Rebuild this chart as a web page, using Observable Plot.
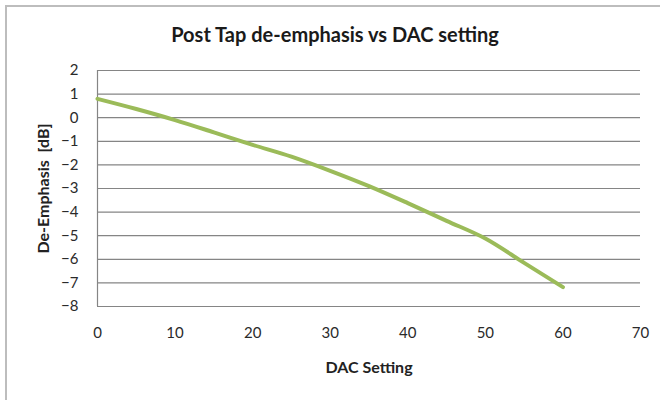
<!DOCTYPE html>
<html>
<head>
<meta charset="utf-8">
<script src="https://cdn.jsdelivr.net/npm/d3@7"></script>
<script src="https://cdn.jsdelivr.net/npm/@observablehq/plot@0.6"></script>
<style>
  html, body { margin: 0; padding: 0; background: #fff; }
  #wrap { position: relative; width: 660px; height: 400px; overflow: hidden; }
  #frame { position: absolute; left: 5px; top: 5px; width: 700px; height: 450px; border: 2px solid #bdbdbd; box-sizing: border-box; }
  #title { position: absolute; left: 0; width: 670px; top: 22px; line-height: 24px; text-align: center;
           font: bold 20px Lato, "Open Sans", sans-serif; color: #1a1a1a; }
  #chart { position: absolute; left: 0; top: 0; }
</style>
</head>
<body>
<div id="wrap">
  <div id="frame"></div>
  <div id="title">Post Tap de-emphasis vs DAC setting</div>
  <div id="chart"></div>
</div>
<script>
const dacSetting = [0, 5, 10, 15, 20, 25, 30, 35, 40, 45, 50, 55, 60];
const deEmphasis = [0.8, 0.37, -0.1, -0.62, -1.15, -1.65, -2.25, -2.9, -3.62, -4.37, -5.12, -6.15, -7.18];
const xTicks = [0, 10, 20, 30, 40, 50, 60, 70];
const yTicks = [2, 1, 0, -1, -2, -3, -4, -5, -6, -7, -8];

const data = dacSetting.map((x, i) => ({x, y: deEmphasis[i]}));

const chart = Plot.plot({
  width: 660,
  height: 400,
  marginLeft: 97,
  marginRight: 20,
  marginTop: 70,
  marginBottom: 94,
  style: {background: "transparent", fontFamily: "Lato, 'Open Sans', sans-serif", fontSize: "15px", color: "#2a2a2a"},
  x: {domain: [0, 70], tickSize: 0, label: null},
  y: {domain: [-8, 2], tickSize: 0, label: null},
  marks: [
    Plot.ruleY(yTicks, {stroke: "#858585", strokeWidth: 1.2}),
    Plot.ruleX([0], {stroke: "#858585", strokeWidth: 1.2}),
    Plot.line(data, {x: "x", y: "y", stroke: "#9bbb59", strokeWidth: 4, curve: "monotone-x"}),
    Plot.axisX({ticks: xTicks, tickSize: 0, tickPadding: 21, label: null}),
    Plot.axisY({ticks: yTicks, tickSize: 0, tickPadding: 19, label: null}),
    Plot.text(["DAC Setting"], {frameAnchor: "bottom", dy: 66, fontWeight: "bold", fontSize: 16, fill: "#222"}),
    Plot.text(["De-Emphasis  [dB]"], {frameAnchor: "left", textAnchor: "middle", dx: -54, rotate: -90, fontWeight: "bold", fontSize: 16, fill: "#222"})
  ]
});
document.getElementById("chart").appendChild(chart);
</script>
</body>
</html>
